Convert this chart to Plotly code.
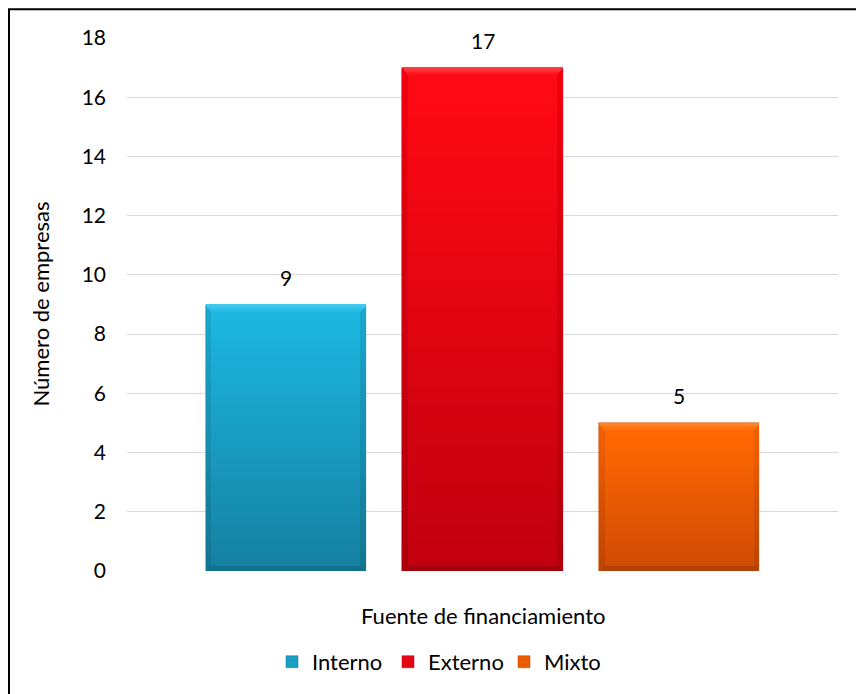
import plotly.graph_objects as go

# Data
categories = ["Interno", "Externo", "Mixto"]
values = [9, 17, 5]
y_ticks = [0, 2, 4, 6, 8, 10, 12, 14, 16, 18]

# Face colours: (top, bottom) of the vertical gradient, side edges and top bevel
face_top = ["#1CB6E0", "#FF0A14", "#FF6802"]
face_bottom = ["#1582A2", "#C2000F", "#D24C04"]
edge_top = ["#19A8CE", "#F0000F", "#F46002"]
edge_bottom = ["#127693", "#AE000C", "#BE4403"]
bevel_top = ["#42C8EC", "#FF3A42", "#FF8426"]
bevel_bottom = ["#11708C", "#A4000B", "#B44003"]

FONT = "Lato"
BAR_W = 0.814
SIDE = 0.028         # side bevel width in category units
BEVEL = 0.27         # top bevel thickness in value units
BEVEL_B = 0.16       # bottom bevel thickness in value units
N = 36               # gradient steps


def hex_rgb(h):
    h = h.lstrip("#")
    return tuple(int(h[i:i + 2], 16) for i in (0, 2, 4))


def mix(a, b, t):
    ra, rb = hex_rgb(a), hex_rgb(b)
    return "rgb(%d,%d,%d)" % tuple(round(ra[k] + (rb[k] - ra[k]) * t) for k in range(3))


fig = go.Figure()

# Base bar per series (carries the legend entry)
for i, c in enumerate(categories):
    fig.add_trace(go.Bar(
        x=[c], y=[values[i]], name=c, width=BAR_W,
        marker=dict(color=mix(face_top[i], face_bottom[i], 0.45),
                    line=dict(color=edge_bottom[i], width=0.5)),
        showlegend=True, hoverinfo="skip",
    ))

# Outer (edge) gradient and inner (face) gradient, built as stacked slices
for layer, (tops, bots, w) in enumerate([(edge_top, edge_bottom, BAR_W),
                                          (face_top, face_bottom, BAR_W - 2 * SIDE)]):
    for s in range(N):
        t = s / (N - 1)
        if layer == 0:
            bases = [v * s / N for v in values]
            heights = [v / N for v in values]
        else:
            span = [v - BEVEL - BEVEL_B for v in values]
            bases = [BEVEL_B + sp * s / N for sp in span]
            heights = [sp / N for sp in span]
        cols = [mix(bots[i], tops[i], t) for i in range(len(categories))]
        fig.add_trace(go.Bar(
            x=categories, y=heights, base=bases, width=w,
            marker=dict(color=cols, line=dict(width=0)),
            showlegend=False, hoverinfo="skip",
        ))

# Lighter bevel along the top of each bar (fades into the face)
for s in range(6):
    t = s / 5
    fig.add_trace(go.Bar(
        x=categories, y=[BEVEL / 6] * len(values),
        base=[v - BEVEL + BEVEL * s / 6 for v in values],
        width=BAR_W - 2 * SIDE * (1 - t),
        marker=dict(color=[mix(face_top[i], bevel_top[i], t) for i in range(len(values))],
                    line=dict(width=0)),
        showlegend=False, hoverinfo="skip",
    ))

# Darker bevel along the bottom of each bar
fig.add_trace(go.Bar(
    x=categories, y=[BEVEL_B] * len(values), base=[0] * len(values),
    width=BAR_W - SIDE, marker=dict(color=bevel_bottom, line=dict(width=0)),
    showlegend=False, hoverinfo="skip",
))

# Value labels above bars
for i, c in enumerate(categories):
    fig.add_annotation(x=c, y=values[i], text=str(values[i]), showarrow=False,
                       yanchor="middle", yshift=27,
                       font=dict(family=FONT, size=21, color="#000000"))

# Axis titles
fig.add_annotation(xref="paper", yref="paper", x=(40 - 127) / 711, y=0.5,
                   xanchor="center", yanchor="middle",
                   text="Número de empresas", textangle=-90, showarrow=False,
                   font=dict(family=FONT, size=22, color="#000000"))
fig.add_annotation(xref="paper", yref="paper", x=0.5, y=(571 - 616) / 533.3,
                   xanchor="center", yanchor="middle",
                   text="Fuente de financiamiento", showarrow=False,
                   font=dict(family=FONT, size=22, color="#000000"))

# Chart frame
fig.add_shape(type="rect", xref="paper", yref="paper",
              x0=(9 - 127) / 711, x1=2, y0=-2, y1=1 + (37.7 - 9) / 533.3,
              line=dict(color="#000000", width=2), fillcolor="rgba(0,0,0,0)",
              layer="below")

fig.update_layout(
    width=856, height=694,
    margin=dict(l=127, r=18, t=38, b=123, autoexpand=False),
    paper_bgcolor="white", plot_bgcolor="white",
    barmode="overlay",
    bargap=0,
    font=dict(family=FONT, size=21, color="#000000"),
    showlegend=True,
    legend=dict(orientation="h", xanchor="left", yanchor="middle",
                x=(272 - 127) / 711, y=(571 - 662) / 533.3,
                font=dict(family=FONT, size=22), itemwidth=30,
                entrywidth=71, entrywidthmode="pixels",
                traceorder="normal", bgcolor="rgba(0,0,0,0)"),
    xaxis=dict(showticklabels=False, showgrid=False, zeroline=False,
               showline=False, ticks="", range=[-0.807, 2.807],
               categoryorder="array", categoryarray=categories),
    yaxis=dict(range=[0, 18], tickvals=y_ticks, showgrid=True,
               gridcolor="#D9D9D9", gridwidth=1, zeroline=False,
               showline=False, ticks="", ticklabelstandoff=20,
               tickfont=dict(family=FONT, size=21)),
)

fig.write_html("out.html")
